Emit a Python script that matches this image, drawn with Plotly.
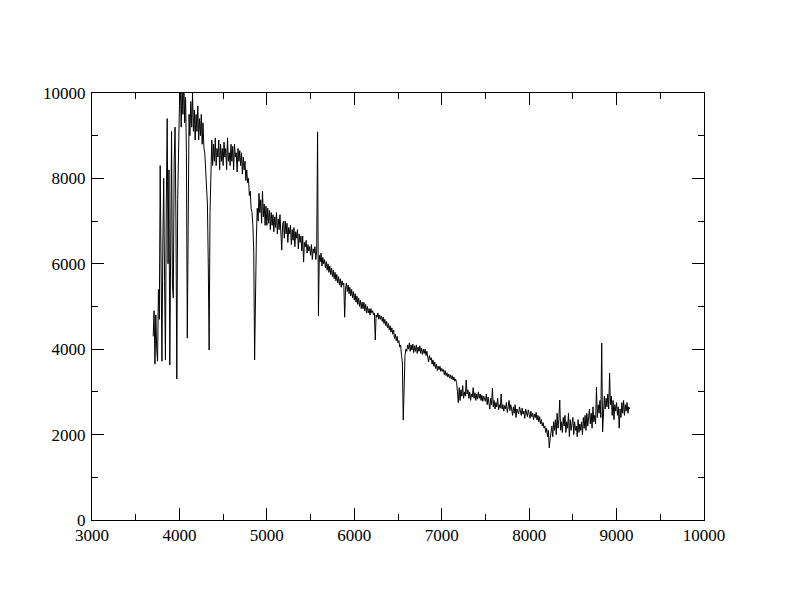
import plotly.graph_objects as go

# Wavelength grid of the spectrum (Angstrom): first sample and spacing
wave_start = 3700
wave_step = 10

# Flux values, 10 values per 100 A row
flux_blue = [
    4300, 4900, 3650, 4800, 4000, 3720, 5400, 4700, 8300, 5600,   # 3700
    3720, 6400, 8000, 5600, 3750, 7400, 9400, 6000, 8200, 3630,   # 3800
    6500, 9100, 5500, 5200, 8400, 9200, 7000, 3300, 7500, 9000,   # 3900
    9700, 10300, 9200, 10100, 9500, 10400, 9300, 9900, 8600, 4260,  # 4000
    8200, 9500, 9000, 9800, 9200, 10000, 9100, 9600, 8900, 9500,  # 4100
    9100, 9700, 8900, 9400, 9000, 9500, 8800, 9300, 8700, 8600,   # 4200
    8200, 7800, 7400, 6000, 3980, 7200, 8400, 8900, 8300, 8800,   # 4300
    8400, 8950, 8300, 8700, 8500, 8900, 8200, 8800, 8400, 8700,   # 4400
    8300, 8850, 8500, 8700, 8200, 8950, 8400, 8600, 8300, 8800,   # 4500
    8400, 8750, 8200, 8800, 8500, 8600, 8150, 8700, 8400, 8650,   # 4600
    8300, 8600, 8100, 8500, 8200, 8400, 7950, 8200, 7900, 8000,   # 4700
    7600, 7700, 7300, 7200, 6900, 6300, 3750, 5500, 6600, 7300,   # 4800
]
flux_green = [
    7000, 7650, 7200, 7500, 6950, 7700, 7100, 7400, 6900, 7350,   # 4900
    6900, 7300, 6950, 7250, 6800, 7200, 6900, 7150, 6750, 7100,   # 5000
    6850, 7200, 6700, 7050, 6800, 7150, 6600, 6320, 6900, 7000,   # 5100
    6600, 7000, 6700, 6950, 6500, 6850, 6700, 6900, 6450, 6800,   # 5200
    6550, 6850, 6400, 6750, 6600, 6800, 6350, 6700, 6500, 6650,   # 5300
    6300, 6650, 6040, 6500, 6400, 6550, 6250, 6450, 6300, 6400,   # 5400
    6200, 6450, 6100, 6350, 6250, 6400, 6100, 6300, 9090, 4780,   # 5500
    6200, 6050, 6250, 5950, 6150, 6000, 6100, 5900, 6050, 5850,   # 5600
    6000, 5800, 5950, 5750, 5900, 5700, 5850, 5650, 5800, 5600,   # 5700
    5750, 5550, 5700, 5500, 5650, 5450, 5600, 5500, 5550, 4750,   # 5800
    5400, 5550, 5350, 5500, 5300, 5450, 5250, 5400, 5200, 5350,   # 5900
    5150, 5300, 5100, 5250, 5050, 5200, 5000, 5150, 4950, 5100,   # 6000
    4950, 5100, 4900, 5050, 4850, 5000, 4850, 4950, 4800, 4950,   # 6100
    4850, 4900, 4800, 4850, 4215, 4800, 4750, 4850, 4700, 4800,   # 6200
    4700, 4780, 4650, 4750, 4600, 4700, 4550, 4650, 4500, 4600,   # 6300
    4450, 4550, 4400, 4500, 4350, 4450, 4250, 4350, 4200, 4300,   # 6400
]
flux_red = [
    4150, 4200, 4050, 4100, 3850, 3700, 2340, 3300, 3850, 4000,   # 6500
    3950, 4100, 4000, 4150, 3950, 4100, 3980, 4120, 3920, 4080,   # 6600
    3950, 4100, 3900, 4050, 3950, 4080, 3900, 4020, 3880, 4000,   # 6700
    3900, 4000, 3850, 3950, 3800, 3700, 3850, 3750, 3800, 3650,   # 6800
    3750, 3600, 3700, 3550, 3650, 3500, 3600, 3520, 3600, 3480,   # 6900
    3550, 3480, 3520, 3400, 3500, 3380, 3450, 3350, 3420, 3320,   # 7000
    3400, 3300, 3380, 3280, 3350, 3250, 3300, 3220, 3000, 2750,   # 7100
    3100, 2800, 3050, 2900, 3150, 2850, 3000, 2900, 3280, 2950,   # 7200
    3050, 2850, 3000, 2800, 2950, 2880, 3100, 2850, 2980, 2800,   # 7300
    2950, 2830, 3000, 2850, 2950, 2800, 2920, 2780, 2900, 2850,   # 7400
    2780, 2950, 2700, 2880, 2750, 2600, 2850, 2700, 3090, 2650,   # 7500
    2800, 2600, 2750, 2650, 2850, 2580, 2700, 2620, 2950, 2600,   # 7600
    2700, 2550, 2680, 2600, 2750, 2520, 2650, 2800, 2560, 2700,   # 7700
]
flux_nir = [
    2600, 2450, 2650, 2500, 2700, 2400, 2600, 2550, 2480, 2650,   # 7800
    2550, 2450, 2620, 2480, 2550, 2380, 2600, 2500, 2420, 2580,   # 7900
    2500, 2380, 2550, 2420, 2500, 2350, 2480, 2400, 2520, 2340,   # 8000
    2450, 2300, 2420, 2250, 2350, 2200, 2280, 2150, 2200, 2050,   # 8100
    2150, 1950, 2100, 1690, 1900, 2050, 2200, 1950, 2300, 2100,   # 8200
    2350, 2000, 2500, 2150, 2350, 2810, 2100, 2300, 2050, 2400,   # 8300
    2200, 2450, 2050, 2300, 2150, 2500, 1950, 2350, 2100, 2250,   # 8400
    2400, 2000, 2300, 2100, 2200, 1950, 2350, 2050, 2250, 2100,   # 8500
    2300, 2000, 2400, 2150, 2450, 2100, 2500, 2200, 2350, 2600,   # 8600
    2250, 2500, 2150, 2650, 2300, 2450, 2250, 3110, 2400, 2700,   # 8700
    2500, 2800, 2400, 4145, 2060, 2700, 2900, 2600, 2850, 2650,   # 8800
    2950, 2600, 3440, 2700, 2900, 2450, 2800, 2350, 2700, 2550,   # 8900
    2750, 2450, 2650, 2150, 2600, 2400, 2750, 2500, 2800, 2450,   # 9000
    2700, 2550, 2750, 2500, 2650, 2600,                           # 9100
]

flux = flux_blue + flux_green + flux_red + flux_nir
wavelength = [wave_start + wave_step * i for i in range(len(flux))]

x_ticks = [3000, 4000, 5000, 6000, 7000, 8000, 9000, 10000]
y_ticks = [0, 2000, 4000, 6000, 8000, 10000]

fig = go.Figure()
fig.add_trace(go.Scatter(
    x=wavelength, y=flux, mode="lines",
    line=dict(color="black", width=1),
    showlegend=False, hoverinfo="skip",
))

axis_common = dict(
    showline=True, linecolor="black", linewidth=1, mirror="ticks",
    ticks="inside", ticklen=12, tickwidth=1, tickcolor="black",
    showgrid=False, zeroline=False,
    tickfont=dict(family="Liberation Serif", size=17, color="black"),
)

fig.update_xaxes(
    range=[3000, 10000], tickvals=x_ticks, ticktext=[str(v) for v in x_ticks],
    minor=dict(ticks="inside", ticklen=6, tickwidth=1, tickcolor="black", dtick=500, tick0=3000, showgrid=False),
    ticklabelstandoff=0,
    **axis_common,
)
fig.update_yaxes(
    range=[0, 10000], tickvals=y_ticks, ticktext=[str(v) for v in y_ticks],
    minor=dict(ticks="inside", ticklen=6, tickwidth=1, tickcolor="black", dtick=1000, tick0=0, showgrid=False),
    ticklabelstandoff=2,
    **axis_common,
)

fig.update_layout(
    width=792, height=612,
    margin=dict(l=84, r=96, t=85, b=100),
    paper_bgcolor="white", plot_bgcolor="white",
)

fig.write_html("out.html")
